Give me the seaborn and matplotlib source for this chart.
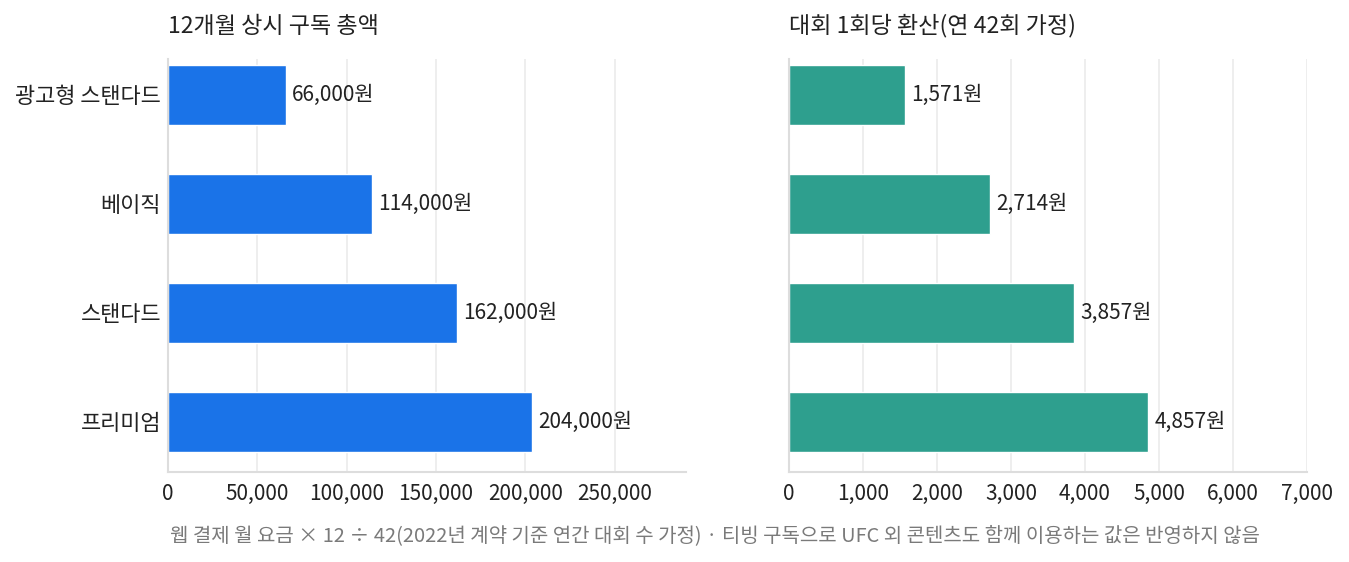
import pandas as pd
import matplotlib
matplotlib.use("Agg")
import matplotlib.pyplot as plt
from matplotlib.ticker import FuncFormatter
import seaborn as sns

# data
plans = ["광고형 스탠다드", "베이직", "스탠다드", "프리미엄"]
annual_total = [66000, 114000, 162000, 204000]
per_event = [1571, 2714, 3857, 4857]

sns.set_style("white")
plt.rcParams['font.family'] = ['Noto Sans CJK KR', 'DejaVu Sans']

df = pd.DataFrame({"plan": plans, "total": annual_total, "per_event": per_event})

fig = plt.figure(figsize=(13.49, 5.62), dpi=100)
ax1 = fig.add_axes([0.1245, 0.160, 0.384, 0.735])
ax2 = fig.add_axes([0.5849, 0.160, 0.384, 0.735])

text_color = "#222222"
grid_color = "#EBEBEB"
spine_color = "#DDDDDD"


def style_axis(ax, xmax, title):
    ax.set_xlim(0, xmax)
    ax.set_ylim(3.46, -0.33)
    ax.set_xlabel("")
    ax.set_ylabel("")
    ax.xaxis.grid(True, color=grid_color, linewidth=1.2)
    ax.set_axisbelow(True)
    for s in ["top", "right"]:
        ax.spines[s].set_visible(False)
    for s in ["left", "bottom"]:
        ax.spines[s].set_color(spine_color)
        ax.spines[s].set_linewidth(1.5)
    ax.tick_params(axis="both", length=0, labelsize=15, colors=text_color)
    ax.tick_params(axis="y", pad=5, labelsize=15.8)
    ax.tick_params(axis="x", pad=8)
    ax.xaxis.set_major_formatter(FuncFormatter(lambda v, p: f"{int(v):,}"))
    ax.set_title(title, loc="left", fontsize=16.6, color=text_color, pad=19)


# left: 12-month total
sns.barplot(data=df, x="total", y="plan", color="#1A73E8", width=0.55,
            saturation=1, ax=ax1)
style_axis(ax1, 290000, "12개월 상시 구독 총액")
ax1.set_xticks(range(0, 250001, 50000))
for i, v in enumerate(annual_total):
    ax1.annotate(f"{v:,}원", (v, i), xytext=(4.5, 0), textcoords="offset points",
                 va="center", ha="left", fontsize=15, color=text_color)

# right: per event
sns.barplot(data=df, x="per_event", y="plan", color="#2E9F8E", width=0.55,
            saturation=1, ax=ax2)
style_axis(ax2, 7000, "대회 1회당 환산(연 42회 가정)")
ax2.set_xticks(range(0, 7001, 1000))
ax2.set_yticklabels([])
for i, v in enumerate(per_event):
    ax2.annotate(f"{v:,}원", (v, i), xytext=(4.5, 0), textcoords="offset points",
                 va="center", ha="left", fontsize=15, color=text_color)

fig.text(0.5298, 0.047,
         "웹 결제 월 요금 × 12 ÷ 42(2022년 계약 기준 연간 대회 수 가정) · 티빙 구독으로 UFC 외 콘텐츠도 함께 이용하는 값은 반영하지 않음",
         ha="center", va="center", fontsize=14.4, color="#7A7A7A")

fig.savefig("out.png", dpi=100)
